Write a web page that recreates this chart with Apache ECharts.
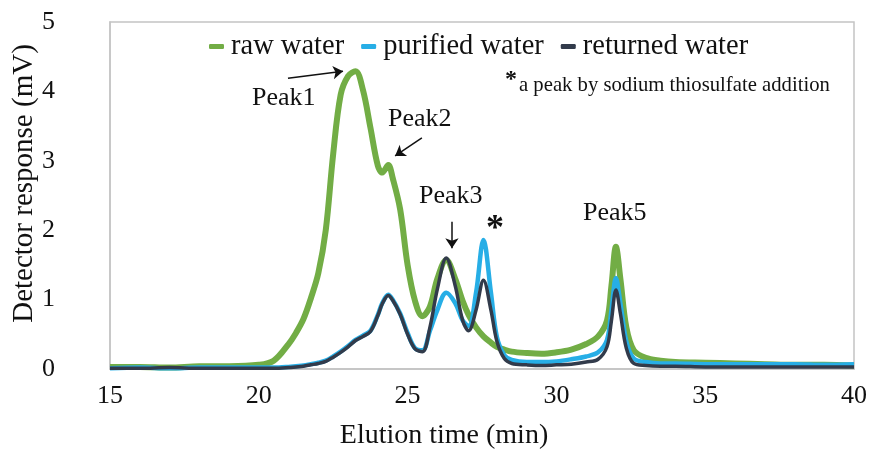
<!DOCTYPE html>
<html>
<head>
<meta charset="utf-8">
<script src="https://cdn.jsdelivr.net/npm/echarts@6/dist/echarts.min.js"></script>
<style>
  html, body { margin: 0; padding: 0; background: #fff; }
  #chart { width: 871px; height: 450px; }
</style>
</head>
<body>
<div id="chart"></div>
<script>
  // elution time (min), shared by all three traces
  const times = [15, 16, 17, 18, 19, 20, 20.5, 21, 21.25, 21.5, 21.75, 22, 22.25, 22.5, 22.75,
    23, 23.25, 23.5, 23.75, 24, 24.15, 24.35, 24.5, 24.75, 25, 25.25, 25.5, 25.75, 26, 26.3,
    26.6, 26.85, 27.05, 27.3, 27.55, 27.8, 28, 28.25, 28.5, 29, 29.5, 30, 30.5, 31, 31.4,
    31.7, 31.85, 32, 32.15, 32.35, 32.6, 33, 33.5, 34, 35, 36, 37, 38, 39, 40]

  // detector response (mV)
  const rawWater = [0.03, 0.03, 0.02, 0.04, 0.04, 0.06, 0.12, 0.36, 0.52, 0.72, 1.02, 1.38, 2.0, 3.1, 3.95,
    4.22, 4.29, 4.02, 3.48, 2.93, 2.83, 2.94, 2.75, 2.3, 1.5, 0.98, 0.76, 0.9, 1.3, 1.57,
    1.3, 0.98, 0.78, 0.6, 0.47, 0.38, 0.32, 0.28, 0.25, 0.23, 0.22, 0.24, 0.28, 0.36, 0.47,
    0.7, 1.2, 1.76, 1.3, 0.6, 0.27, 0.16, 0.12, 0.1, 0.09, 0.08, 0.07, 0.06, 0.06, 0.05]
  const purifiedWater = [0.01, 0.02, 0.01, 0.02, 0.02, 0.02, 0.02, 0.03, 0.04, 0.05, 0.07, 0.09, 0.12, 0.18, 0.25,
    0.33, 0.42, 0.48, 0.55, 0.78, 0.95, 1.07, 1.0, 0.8, 0.52, 0.3, 0.27, 0.55, 0.85, 1.1,
    0.95, 0.7, 0.62, 1.1, 1.86, 1.1, 0.46, 0.2, 0.13, 0.1, 0.1, 0.11, 0.14, 0.18, 0.24,
    0.42, 0.85, 1.31, 0.95, 0.4, 0.15, 0.1, 0.08, 0.08, 0.07, 0.07, 0.07, 0.07, 0.06, 0.07]
  const returnedWater = [0.01, 0.01, 0.02, 0.01, 0.01, 0.01, 0.01, 0.02, 0.03, 0.04, 0.06, 0.08, 0.11, 0.17, 0.24,
    0.32, 0.41, 0.47, 0.54, 0.77, 0.94, 1.06, 0.99, 0.79, 0.5, 0.29, 0.25, 0.6, 1.15, 1.6,
    1.2, 0.7, 0.55, 0.85, 1.28, 0.85, 0.4, 0.15, 0.08, 0.06, 0.05, 0.06, 0.07, 0.1, 0.14,
    0.32, 0.7, 1.14, 0.8, 0.3, 0.08, 0.05, 0.04, 0.04, 0.03, 0.03, 0.03, 0.03, 0.03, 0.03]

  const seriesNames = ['raw water', 'purified water', 'returned water']
  const seriesColors = ['#72ad45', '#27aee6', '#323b4b']
  const seriesWidths = [6, 4.5, 3.5]

  const serif = 'Liberation Serif'
  const pair = (ys) => times.map((t, i) => [t, ys[i]])

  const chart = echarts.init(document.getElementById('chart'))

  const arrowStyle = { color: '#111', width: 1.5, type: 'solid' }
  const arrowLines = [
    [{ coord: [20.98, 4.19] }, { coord: [22.83, 4.29] }],
    [{ coord: [25.48, 3.33] }, { coord: [24.58, 3.07] }],
    [{ coord: [26.49, 2.12] }, { coord: [26.49, 1.74] }]
  ]

  const lineSeries = [rawWater, purifiedWater, returnedWater].map((ys, k) => ({
    name: seriesNames[k],
    type: 'line',
    data: pair(ys),
    smooth: 0.35,
    showSymbol: false,
    color: seriesColors[k],
    lineStyle: { width: seriesWidths[k], color: seriesColors[k] },
    z: 2 + k
  }))
  lineSeries[0].markLine = {
    silent: true,
    symbol: ['none', 'arrow'],
    symbolSize: 10,
    label: { show: false },
    lineStyle: arrowStyle,
    data: arrowLines,
    z: 10
  }

  chart.setOption({
    animation: false,
    textStyle: { fontFamily: serif },
    grid: {
      left: 110, right: 17, top: 22, bottom: 81,
      outerBoundsMode: 'none',
      show: true, borderColor: '#c4c4c4', borderWidth: 1.5
    },
    legend: {
      top: 27,
      left: 204,
      itemWidth: 15,
      itemHeight: 5,
      itemGap: 17,
      icon: 'roundRect',
      textStyle: { fontFamily: serif, fontSize: 28.5, color: '#111', padding: [0, 0, 0, 2] },
      data: seriesNames
    },
    xAxis: {
      type: 'value',
      min: 15,
      max: 40,
      interval: 5,
      name: 'Elution time (min)',
      nameLocation: 'middle',
      nameGap: 53,
      nameMoveOverlap: false,
      nameTextStyle: { fontFamily: serif, fontSize: 28, color: '#111', padding: [0, 76, 0, 0] },
      axisLine: { show: true, lineStyle: { color: '#c4c4c4', width: 1.5 } },
      axisTick: { show: false },
      splitLine: { show: false },
      axisLabel: { fontFamily: serif, fontSize: 26, color: '#111', margin: 14 }
    },
    yAxis: {
      type: 'value',
      min: 0,
      max: 5,
      interval: 1,
      name: 'Detector response (mV)',
      nameLocation: 'middle',
      nameGap: 71,
      nameMoveOverlap: false,
      nameTextStyle: { fontFamily: serif, fontSize: 29, color: '#111', padding: [0, 0, 0, 24] },
      axisLine: { show: true, lineStyle: { color: '#c4c4c4', width: 1.5 } },
      axisTick: { show: false },
      splitLine: { show: false },
      axisLabel: { fontFamily: serif, fontSize: 26, color: '#111', margin: 55 }
    },
    graphic: [
      { type: 'text', left: 252, top: 85, style: { text: 'Peak1', font: '26px "Liberation Serif"', fill: '#111' } },
      { type: 'text', left: 388, top: 106, style: { text: 'Peak2', font: '26px "Liberation Serif"', fill: '#111' } },
      { type: 'text', left: 419, top: 183, style: { text: 'Peak3', font: '26px "Liberation Serif"', fill: '#111' } },
      { type: 'text', left: 486, top: 212, style: { text: '*', font: 'bold 36px "Liberation Serif"', fill: '#111' } },
      { type: 'text', left: 583, top: 200, style: { text: 'Peak5', font: '26px "Liberation Serif"', fill: '#111' } },
      { type: 'text', left: 505, top: 68, style: { text: '*', font: 'bold 24px "Liberation Serif"', fill: '#111' } },
      { type: 'text', left: 519, top: 75, style: { text: 'a peak by sodium thiosulfate addition', font: '20.7px "Liberation Serif"', fill: '#111' } }
    ],
    series: lineSeries
  })
</script>
</body>
</html>
